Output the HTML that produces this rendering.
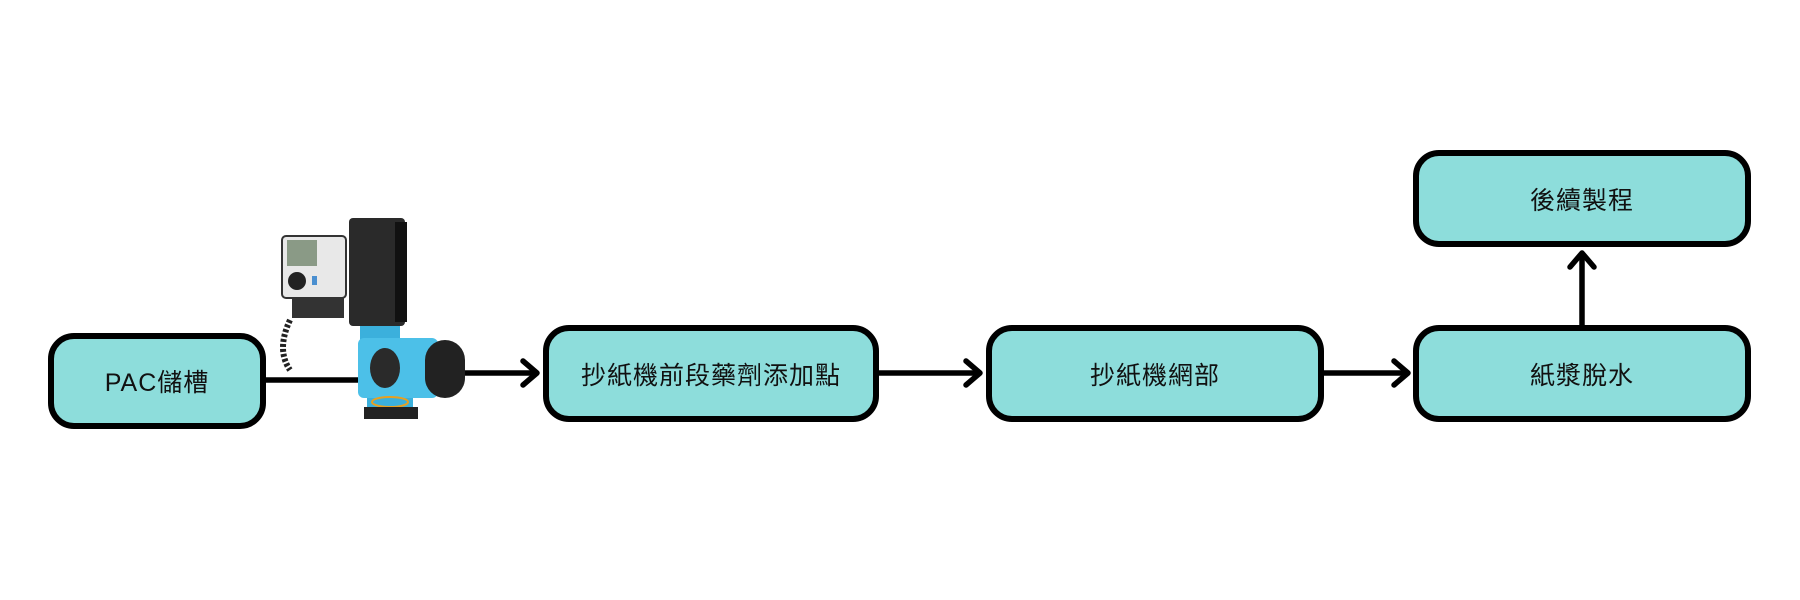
<!DOCTYPE html>
<html><head><meta charset="utf-8"><style>
body{margin:0;width:1800px;height:600px;background:#fff;position:relative;overflow:hidden;font-family:"Liberation Sans","Noto Sans CJK TC",sans-serif}
.b{position:absolute;box-sizing:border-box;background:#8ddddb;border:6px solid #000;border-radius:26px;display:flex;align-items:center;justify-content:center;font-size:25px;color:#111;letter-spacing:1px}
</style></head><body>
<svg width="1800" height="600" style="position:absolute;left:0;top:0">
<g stroke="#000" stroke-width="5.5" fill="none" stroke-linecap="round" stroke-linejoin="round">
<line x1="266" y1="380" x2="360" y2="380"/>
<line x1="460" y1="373" x2="535" y2="373"/><polyline points="523,361 537,373 523,385"/>
<line x1="879" y1="373" x2="978" y2="373"/><polyline points="966,361 980,373 966,385"/>
<line x1="1324" y1="373" x2="1406" y2="373"/><polyline points="1394,361 1408,373 1394,385"/>
<line x1="1582" y1="325" x2="1582" y2="255"/><polyline points="1570,267 1582,253 1594,267"/>
</g>
<g>
<rect x="349" y="218" width="56" height="108" rx="4" fill="#2a2a2a"/>
<rect x="395" y="222" width="12" height="100" fill="#111"/>
<rect x="282" y="236" width="64" height="62" rx="4" fill="#e8e8e8" stroke="#333" stroke-width="2"/>
<rect x="287" y="240" width="30" height="26" fill="#8a9a86"/>
<circle cx="297" cy="281" r="9" fill="#222"/>
<rect x="312" y="276" width="5" height="9" fill="#4a8fd0"/>
<rect x="292" y="298" width="52" height="20" fill="#333"/>
<path d="M290 320 q-14 30 0 50" stroke="#222" stroke-width="6" fill="none" stroke-dasharray="3 2"/>
<rect x="360" y="326" width="40" height="14" fill="#3bb0dc"/>
<rect x="358" y="338" width="80" height="60" rx="6" fill="#4cc0e8"/>
<ellipse cx="385" cy="368" rx="15" ry="20" fill="#2a2a2a"/>
<rect x="425" y="340" width="40" height="58" rx="20" fill="#222"/>
<rect x="367" y="398" width="46" height="12" fill="#3bb0dc"/>
<ellipse cx="390" cy="402" rx="18" ry="5" fill="none" stroke="#e8a020" stroke-width="2"/>
<rect x="364" y="407" width="54" height="12" fill="#222"/>
</g>
</svg>
<div class="b" style="left:48px;top:333px;width:218px;height:96px">PAC儲槽</div>
<div class="b" style="left:543px;top:325px;width:336px;height:97px">抄紙機前段藥劑添加點</div>
<div class="b" style="left:986px;top:325px;width:338px;height:97px">抄紙機網部</div>
<div class="b" style="left:1413px;top:325px;width:338px;height:97px">紙漿脫水</div>
<div class="b" style="left:1413px;top:150px;width:338px;height:97px">後續製程</div>
</body></html>
